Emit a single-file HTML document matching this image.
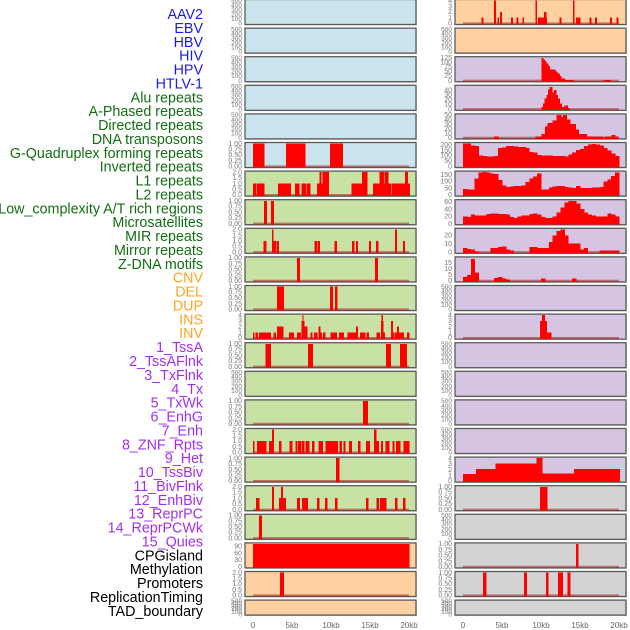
<!DOCTYPE html>
<html><head><meta charset="utf-8">
<style>
body{margin:0;background:#fff;}
#wrap{position:relative;width:630px;height:630px;overflow:hidden;font-family:"Liberation Sans",sans-serif;}
svg{position:absolute;left:0;top:0;}
</style></head>
<body>
<div id="wrap">
<svg id="chart" width="630" height="630" viewBox="0 0 630 630"></svg>
</div>
<script>
// ---- data ----
const trackLabels = ["AAV2","EBV","HBV","HIV","HPV","HTLV-1","Alu repeats","A-Phased repeats","Directed repeats","DNA transposons","G-Quadruplex forming repeats","Inverted repeats","L1 repeats","L2 repeats","Low_complexity A/T rich regions","Microsatellites","MIR repeats","Mirror repeats","Z-DNA motifs","CNV","DEL","DUP","INS","INV","1_TssA","2_TssAFlnk","3_TxFlnk","4_Tx","5_TxWk","6_EnhG","7_Enh","8_ZNF_Rpts","9_Het","10_TssBiv","11_BivFlnk","12_EnhBiv","13_ReprPC","14_ReprPCWk","15_Quies","CPGisland","Methylation","Promoters","ReplicationTiming","TAD_boundary"];
const labelGroups = [0,0,0,0,0,0,1,1,1,1,1,1,1,1,1,1,1,1,1,2,2,2,2,2,3,3,3,3,3,3,3,3,3,3,3,3,3,3,3,4,4,4,4,4];
const xTickLabels = ["0","5kb","10kb","15kb","20kb"];
const xTickValues = [0,5,10,15,20];
const leftBg = ["b","b","b","b","b","b","g","g","g","g","g","g","g","g","g","g","g","g","g","p","p","p"];
const leftMax = [500,500,500,500,500,1,2,1,2,1,1,4,1,500,1,2,1,2,1,100,2,500];
const leftSegs = [
 [],[],[],[],[],
 [[0,1.4,1],[4.2,6.7,1],[9.9,11.5,1]],
 [[0,0.4,1],[0.5,1.4,1],[3.2,4.8,1],[5.4,5.9,1],[6.2,6.8,1],[6.9,7.3,1],[8.2,8.9,1],[8.5,8.7,2],[8.9,9.7,2],[12.6,14.0,1],[14.0,14.6,2],[15.4,16.2,1],[16.2,16.8,2],[16.8,16.9,1],[16.9,17.3,2],[17.3,17.7,1],[17.8,19.5,1],[19.5,19.8,2],[19.8,20.1,1]],
 [[1.4,1.75,1],[2.3,2.65,1]],
 [[1.35,1.65,1],[2.45,2.6,2],[2.6,2.9,1],[3.0,3.25,1],[7.9,8.15,1],[8.3,8.55,1],[10.45,10.7,1],[12.7,12.95,1],[13.2,13.4,1],[14.85,15.05,1],[15.8,16.05,1],[18.2,18.4,2],[19.2,19.45,1]],
 [[5.65,6.0,1],[15.65,16.0,1]],
 [[3.1,3.9,1],[9.9,10.2,1],[10.5,10.8,1]],
 [[0,0.17,1],[0.34,0.6,1],[0.77,2.26,1],[2.6,2.9,1],[3.08,3.85,2],[4.6,5.2,1],[5.64,6.1,1],[6.24,6.54,3],[6.33,6.41,4],[6.54,6.92,2],[7.35,7.56,1],[7.82,8.2,1],[8.38,8.63,2],[8.63,8.8,1],[8.97,9.23,1],[9.92,10.73,1],[11.03,11.62,1],[12.1,13.2,1],[13.2,13.42,2],[13.7,14.36,1],[14.53,14.83,1],[15.85,16.2,1],[16.4,16.7,3],[16.45,16.6,4],[16.7,16.9,1],[17.7,17.9,3],[17.9,18.1,1],[18.2,18.4,1],[18.46,18.67,2],[18.67,19.3,1],[19.74,20.04,1]],
 [[1.62,2.26,1],[7.05,7.65,1],[17.05,17.65,1],[18.84,19.7,1]],
 [],
 [[14.1,14.36,1],[14.44,14.7,1]],
 [[0,0.13,1],[0.51,1.67,1],[2.05,2.44,1],[2.44,2.65,2],[3.33,3.59,1],[4.7,5.0,1],[5.43,5.68,1],[5.77,6.15,1],[6.28,6.54,1],[6.71,7.18,1],[7.56,7.82,1],[8.38,8.93,1],[9.27,10.85,1],[11.1,11.37,1],[11.58,11.8,1],[12.3,12.65,1],[13.46,13.7,1],[14.49,14.96,1],[15.51,15.77,2],[15.77,16.11,1],[16.4,16.62,1],[16.96,17.43,1],[17.86,18.07,1],[18.33,18.84,1],[19.27,19.99,1]],
 [[10.64,11.03,1]],
 [[0.38,0.77,1],[2.44,2.65,2],[3.33,4.19,1],[3.59,3.8,2],[5.64,5.98,1],[6.28,6.97,1],[8.2,8.46,1],[9.23,9.49,1],[10.51,10.77,1],[14.49,14.74,1],[15.85,16.11,1],[16.28,17.05,1],[18.2,18.46,1],[19.23,19.53,1]],
 [[0.77,1.11,1]],
 [[0,20,100]],
 [[3.45,3.9,2]],
 []
];
const rightBg = ["p","p","u","u","u","u","u","u","u","u","u","u","u","u","u","u","u","r","r","r","r","r"];
const rightMax = [4,500,125,48,50,210,168,63,27,19,500,4,500,500,500,500,4,1,500,1,1,500];
const gquadBins = [210,210,195,190,100,95,90,90,95,170,175,190,190,185,180,180,170,135,130,105,100,100,100,95,95,95,90,110,130,150,160,190,200,205,200,195,170,145,120,95];
const l1Bins = [45,40,40,120,165,168,165,160,155,110,70,60,62,65,68,70,95,120,135,160,40,40,55,62,65,65,60,55,50,65,52,50,50,55,55,60,100,115,140,165];
const l2Bins = [20,18,25,23,22,22,26,28,28,26,27,25,18,15,20,22,23,27,28,25,18,15,15,20,30,45,58,63,62,55,40,30,25,22,20,20,20,28,25,20];
const lowCxBins = [5,4,3,1,0,0,0,5,5,6,7,3,2,0,0,0,0,6,6,5,5,5,12,20,25,27,20,10,10,10,3,5,0,0,0,2,2,2,2,2];
const zdnaBins = [3,5,18,7,0,0,0,0,2.5,3,2,1,0,0,0,0,0,0,0,0,2,0,0,0,0,0,0,0,2,0,0,0,0,0,0,0,0,0,0,0];
const rightSegs = [
 [[2.39,2.6,1],[4.0,4.19,4],[4.4,4.57,1],[4.74,4.92,2],[6.15,6.37,1],[6.88,7.05,1],[7.6,7.78,1],[9.32,9.44,4],[9.6,10.7,1],[10.38,10.64,2],[12.35,12.6,1],[14.1,14.27,4],[14.49,15.0,1],[16.2,16.4,1],[16.92,17.13,1],[18.84,19.06,1],[19.7,19.9,1]],
 [],
 [[10.04,10.25,125],[10.25,10.46,115],[10.46,10.68,108],[10.68,10.9,95],[10.9,11.1,80],[11.1,11.73,60],[11.73,11.95,55],[11.95,12.2,45],[12.2,12.4,35],[12.4,12.6,25],[12.6,13.0,12],[13.0,14.1,4],[18.0,18.9,3]],
 [[10.04,10.25,5],[10.25,10.46,12],[10.46,10.68,22],[10.68,10.9,30],[10.9,11.1,42],[11.1,11.44,47],[11.44,11.65,35],[11.65,11.95,40],[11.95,12.15,30],[12.15,12.37,22],[12.37,12.66,12],[12.66,13.0,5],[13.0,13.4,8],[13.4,13.6,2]],
 [[3.98,4.57,3],[9.27,10.08,3],[10.08,10.51,8],[10.51,10.85,25],[10.85,11.49,33],[11.49,12.0,38],[12.0,12.6,50],[12.6,12.8,46],[12.8,13.29,50],[13.29,13.71,40],[13.71,14.44,30],[14.44,14.79,18],[14.79,15.85,8],[15.85,17.99,3],[18.2,19.06,3],[19.06,19.49,6],[19.49,19.91,3]],
 "gquad","l1","l2","lowcx","zdna",
 [],
 [[9.87,10.12,3],[10.12,10.46,4],[10.46,10.72,3],[10.72,11.27,1]],
 [],[],[],[],
 [[0,1.67,1.2],[1.67,4.19,2.1],[4.19,9.44,3.1],[9.44,10.12,4],[10.12,14.23,1.3],[14.23,20.1,2.1]],
 [[9.87,10.77,1]],
 [],
 [[14.5,14.75,1]],
 [[2.56,2.95,1],[7.8,8.17,1],[10.64,10.9,1],[12.18,12.44,1],[12.44,12.8,1],[13.4,13.7,1]],
 []
];
const binMap = {gquad:gquadBins,l1:l1Bins,l2:l2Bins,lowcx:lowCxBins,zdna:zdnaBins};
const tickSets = {
 500:[0,100,200,300,400,500],1:["0.00","0.25","0.50","0.75","1.00"],2:["0.0","0.5","1.0","1.5","2.0"],4:[0,1,2,3,4],
 100:[0,30,60,90],125:[0,25,50,75,100,125],48:[0,10,20,30,40],50:[0,10,20,30,40,50],210:[0,50,100,150,200],168:[0,50,100,150],63:[0,20,40,60],27:[0,10,20],19:[0,5,10,15]
};
// ---- drawing ----
const NS="http://www.w3.org/2000/svg";
const svg=document.getElementById('chart');
function mk(tag,attrs,parent){const e=document.createElementNS(NS,tag);for(const k in attrs)e.setAttribute(k,attrs[k]);(parent||svg).appendChild(e);return e;}
const bgColors={b:"#c9e4ec",g:"#c8e1a5",p:"#ffd1a1",u:"#d5c5e2",r:"#d3d3d3"};
const labelColors=["#1a1aee","#136e13","#ffa520","#a030f0","#000000"];
const cols=[{x0:245,x1:416,d0:253,d1:409},{x0:455,x1:626,d0:463,d1:619}];
function rowTop(i){return -0.5+28.6*i;}
function rowH(i){return i===21?15:25;}

trackLabels.forEach((t,i)=>{
  const el=mk('text',{x:203,y:14+13.88*i+5,'text-anchor':'end','font-size':'14.3','fill':labelColors[labelGroups[i]],'font-family':'Liberation Sans, sans-serif'});
  el.textContent=t;
  
  
});

function drawPanel(ci,ri,bg,M,segs){
  const c=cols[ci];const top=rowTop(ri),h=rowH(ri);
  const g=mk('g',{});
  
  
  const xs=v=>c.d0+(c.d1-c.d0)*v/20;
  const lo=-0.05*M,hi=1.05*M;
  const ys=v=>top+h-(v-lo)/(hi-lo)*h;
  mk('rect',{x:c.x0+1,y:top+1,width:c.x1-c.x0,height:h,fill:'#aaa',opacity:0.5},g);
  mk('rect',{x:c.x0,y:top,width:c.x1-c.x0,height:h,fill:bgColors[bg],stroke:'#5a5a5a','stroke-width':1.3},g);
  let bars=segs;
  if(typeof segs==='string'){const arr=binMap[segs];bars=arr.map((v,i)=>[i*0.5,i*0.5+0.5,v]).filter(b=>b[2]>0);}
  if(bars.length){
    if(!(ci===0&&ri===19)) { const bl=mk('line',{x1:xs(0),x2:xs(20),y1:ys(0),y2:ys(0),stroke:'rgba(170,30,30,0.55)','stroke-width':2},g);
        }
    bars.forEach(b=>{
      const x=xs(b[0]),w=Math.max(xs(b[1])-x+0.4,1.2);const y=Math.max(ys(b[2]),top+0.7);
      const r=mk('rect',{x:x,y:y,width:w,height:ys(0)-y+1,fill:'#ff0000','shape-rendering':'crispEdges'},g);
      
      
    });
  }
  const ts=tickSets[M];
  ts.forEach(t=>{
    const v=parseFloat(t);
    const tx=mk('text',{x:c.x0-3,y:ys(v)+2.2,'text-anchor':'end','font-size':(M===500?6.5:7),fill:'#777'},g);
    tx.textContent=t;
    
    
  });
}
for(let r=0;r<22;r++){drawPanel(0,r,leftBg[r],leftMax[r],leftSegs[r]);drawPanel(1,r,rightBg[r],rightMax[r],rightSegs[r]);}
cols.forEach((c,ci)=>{
  xTickValues.forEach((v,i)=>{
    const t=mk('text',{x:c.d0+(c.d1-c.d0)*v/20,y:628,'text-anchor':'middle','font-size':'8','fill':'#666'});
    t.textContent=xTickLabels[i];
    
    
  });
});
</script>
</body></html>
